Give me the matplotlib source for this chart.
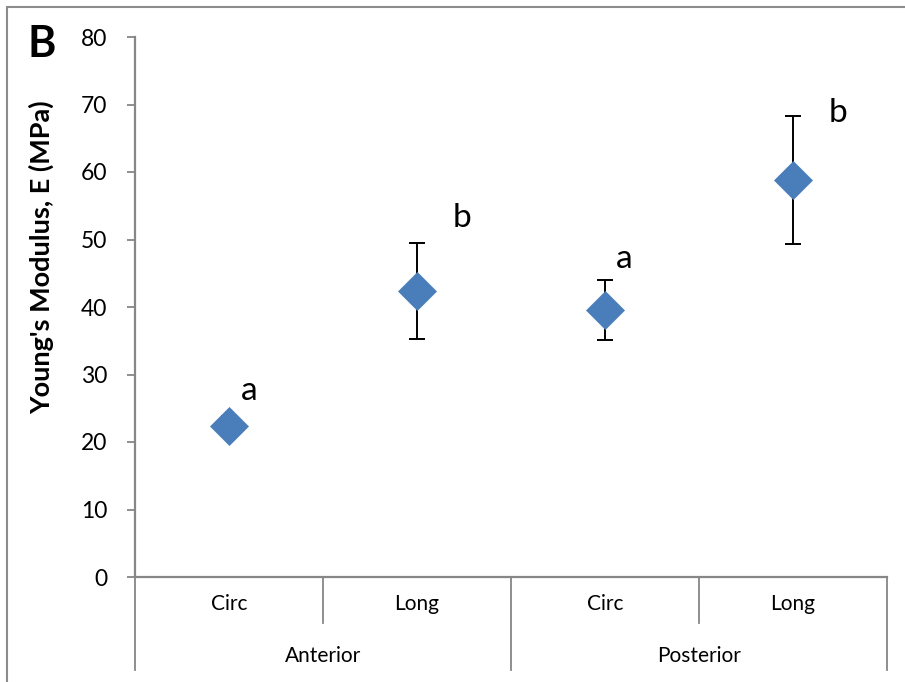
import matplotlib
matplotlib.use("Agg")
import matplotlib.pyplot as plt
import matplotlib.transforms as mtransforms

plt.rcParams['font.family'] = ['Lato', 'DejaVu Sans']

# ---- data ----
groups = ["Anterior", "Posterior"]
orientations = ["Circ", "Long"]
means = [22.4, 42.4, 39.6, 58.8]
errors = [1.5, 7.1, 4.45, 9.5]
letters = ["a", "b", "a", "b"]
letter_y = [26.2, 51.9, 45.8, 67.4]
letter_dx = [0.11, 0.24, 0.10, 0.24]
yticks = [0, 10, 20, 30, 40, 50, 60, 70, 80]
ylabel = "Young's Modulus, E (MPa)"
panel = "B"

W, H = 905, 682
fig = plt.figure(figsize=(W / 100, H / 100), dpi=100)
ax = fig.add_axes([135 / W, 1 - 577 / H, (887 - 135) / W, (577 - 37) / H])

gray = "#868686"
blue = "#4A7EBB"

x = list(range(len(means)))
ax.errorbar(x, means, yerr=errors, fmt="none", ecolor="black",
            elinewidth=1.4, capsize=6, capthick=1.4, zorder=2)
ax.plot(x, means, linestyle="none", marker="D", markersize=19.5,
        markerfacecolor=blue, markeredgecolor=blue, markeredgewidth=0.5,
        zorder=3)

for xi, dx, ly, lt in zip(x, letter_dx, letter_y, letters):
    ax.text(xi + dx, ly, lt, ha="center", va="baseline", fontsize=24)

ax.set_xlim(-0.5, len(means) - 0.5)
ax.set_ylim(0, 80)
ax.set_yticks(yticks)
ax.tick_params(axis="y", direction="out", length=6, width=1.3, color=gray,
               labelsize=16.5, pad=14)
ax.set_xticks([])
for s in ["top", "right"]:
    ax.spines[s].set_visible(False)
for s in ["left", "bottom"]:
    ax.spines[s].set_color(gray)
    ax.spines[s].set_linewidth(1.6)

# hierarchical category axis
trans = mtransforms.blended_transform_factory(ax.transData, fig.transFigure)
y_axis = 1 - 577 / H
y_minor = 1 - 623 / H
y_major = 1 - 670 / H
n_per = len(orientations)
for i in range(len(means) + 1):
    xb = i - 0.5
    yb = y_major if i % n_per == 0 else y_minor
    ax.plot([xb, xb], [y_axis, yb], color=gray, lw=1.3, transform=trans,
            clip_on=False)
for i in range(len(means)):
    ax.text(i, 1 - 604 / H, orientations[i % n_per], ha="center", va="center",
            fontsize=15, transform=trans)
for g, name in enumerate(groups):
    xc = g * n_per + (n_per - 1) / 2
    ax.text(xc, 1 - 656 / H, name, ha="center", va="center", fontsize=15,
            transform=trans)

fig.text(41 / W, 1 - 257 / H, ylabel, rotation=90, ha="center", va="center",
         fontsize=19.5, fontweight="bold")
fig.text(42 / W, 1 - 44 / H, panel, ha="center", va="center", fontsize=31,
         fontweight="bold")

# outer frame
fig.add_artist(plt.Rectangle((7 / W, -0.1), 1.2, 1 - 7 / H + 0.1,
                             transform=fig.transFigure, fill=False,
                             edgecolor="#8c8c8c", lw=1.5))

fig.savefig("out.png", dpi=100)
